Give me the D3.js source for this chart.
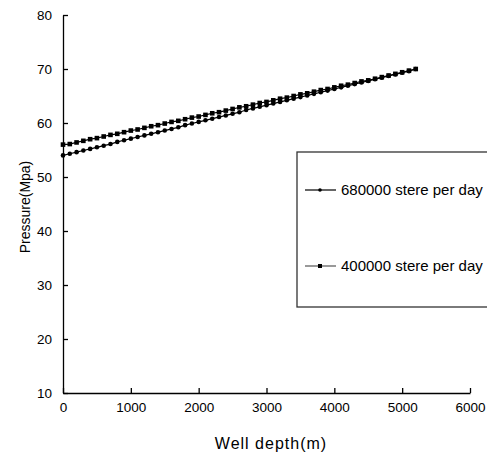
<!DOCTYPE html>
<html>
<head>
<meta charset="utf-8">
<script src="https://cdn.jsdelivr.net/npm/d3@7"></script>
<style>
  body { margin: 0; background: #fff; }
  svg { font-family: "Liberation Sans", Arial, sans-serif; }
</style>
</head>
<body>
<div id="chart"></div>
<script>
// depths every 100 m from 0 to 5200
const depths = [0,100,200,300,400,500,600,700,800,900,1000,1100,1200,1300,1400,1500,1600,1700,1800,1900,2000,
  2100,2200,2300,2400,2500,2600,2700,2800,2900,3000,3100,3200,3300,3400,3500,3600,3700,3800,3900,4000,
  4100,4200,4300,4400,4500,4600,4700,4800,4900,5000,5100,5200];

const p680000 = [54.0,54.3,54.6,54.9,55.2,55.5,55.8,56.1,56.5,56.8,57.1,57.4,57.7,58.0,58.3,58.6,58.9,59.2,59.6,59.9,
  60.2,60.5,60.8,61.1,61.4,61.7,62.0,62.4,62.7,63.0,63.3,63.6,63.9,64.2,64.5,64.8,65.1,65.4,65.7,66.0,
  66.3,66.6,66.9,67.2,67.5,67.8,68.1,68.4,68.7,69.0,69.3,69.6,70.0];

const p400000 = [56.0,56.1,56.4,56.7,57.0,57.2,57.5,57.8,58.0,58.3,58.6,58.8,59.1,59.4,59.6,59.9,60.2,60.4,60.7,61.0,
  61.2,61.5,61.8,62.0,62.3,62.6,62.9,63.1,63.4,63.7,63.9,64.2,64.5,64.7,65.0,65.3,65.5,65.8,66.1,66.3,
  66.6,66.9,67.1,67.4,67.7,67.9,68.2,68.5,68.8,69.1,69.4,69.7,70.0];

const seriesNames = ["680000 stere per day", "400000 stere per day"];
const xTicks = [0,1000,2000,3000,4000,5000,6000];
const yTicks = [10,20,30,40,50,60,70,80];

const width = 487, height = 454;

const svg = d3.select("#chart").append("svg")
  .attr("width", width)
  .attr("height", height);

const x = d3.scaleLinear().domain([0, 6000]).range([63, 470]);
const y = d3.scaleLinear().domain([10, 80]).range([393, 15]);

// axes, ticks pointing inward
const xAxis = svg.append("g")
  .attr("transform", `translate(0,${y(10)})`)
  .call(d3.axisBottom(x).tickValues(xTicks).tickFormat(d3.format("d"))
    .tickSizeInner(-5).tickSizeOuter(0).tickPadding(9));

const yAxis = svg.append("g")
  .attr("transform", `translate(${x(0)},0)`)
  .call(d3.axisLeft(y).tickValues(yTicks).tickFormat(d3.format("d"))
    .tickSizeInner(-5).tickSizeOuter(0).tickPadding(11));

[xAxis, yAxis].forEach(g => {
  g.attr("font-size", null).attr("font-family", null);
  g.select(".domain").attr("stroke", "#000").attr("stroke-width", 1.3);
  g.selectAll(".tick line").attr("stroke", "#000").attr("stroke-width", 1.3);
  g.selectAll(".tick text").attr("fill", "#000").style("font-size", "13.5px");
});

svg.append("text")
  .attr("x", 271).attr("y", 449)
  .attr("text-anchor", "middle")
  .style("font-size", "16px")
  .style("letter-spacing", "1px")
  .text("Well depth(m)");

svg.append("text")
  .attr("transform", "translate(25,207) rotate(-90)")
  .attr("text-anchor", "middle")
  .attr("dy", "0.35em")
  .style("font-size", "14px")
  .text("Pressure(Mpa)");

const line = d3.line()
  .x((d, i) => x(depths[i]))
  .y(d => y(d));

// 680000 series: small round markers
svg.append("path")
  .datum(p680000)
  .attr("fill", "none")
  .attr("stroke", "#000")
  .attr("stroke-width", 1.2)
  .attr("d", line);

svg.append("g").selectAll("circle")
  .data(p680000)
  .join("circle")
  .attr("cx", (d, i) => x(depths[i]))
  .attr("cy", d => y(d))
  .attr("r", 2.3)
  .attr("fill", "#000");

// 400000 series: square markers
svg.append("path")
  .datum(p400000)
  .attr("fill", "none")
  .attr("stroke", "#000")
  .attr("stroke-width", 1.2)
  .attr("d", line);

svg.append("g").selectAll("rect")
  .data(p400000)
  .join("rect")
  .attr("x", (d, i) => x(depths[i]) - 2.3)
  .attr("y", d => y(d) - 2.3)
  .attr("width", 4.6)
  .attr("height", 4.6)
  .attr("fill", "#000");

// legend
const legend = svg.append("g");
legend.append("rect")
  .attr("x", 297).attr("y", 152)
  .attr("width", 200).attr("height", 155)
  .attr("fill", "#fff")
  .attr("stroke", "#333")
  .attr("stroke-width", 1.3);

const legendY = [190, 266];
seriesNames.forEach((name, i) => {
  const g = legend.append("g").attr("transform", `translate(0,${legendY[i]})`);
  g.append("line")
    .attr("x1", 305).attr("x2", 336)
    .attr("stroke", i === 0 ? "#000" : "#555")
    .attr("stroke-width", 1.2);
  if (i === 0) {
    g.append("circle").attr("cx", 320).attr("cy", 0).attr("r", 1.8).attr("fill", "#000");
  } else {
    g.append("rect").attr("x", 318).attr("y", -2).attr("width", 4).attr("height", 4).attr("fill", "#000");
  }
  g.append("text")
    .attr("x", 341).attr("y", 0)
    .attr("dy", "0.35em")
    .style("font-size", "15px")
    .text(name);
});
</script>
</body>
</html>
